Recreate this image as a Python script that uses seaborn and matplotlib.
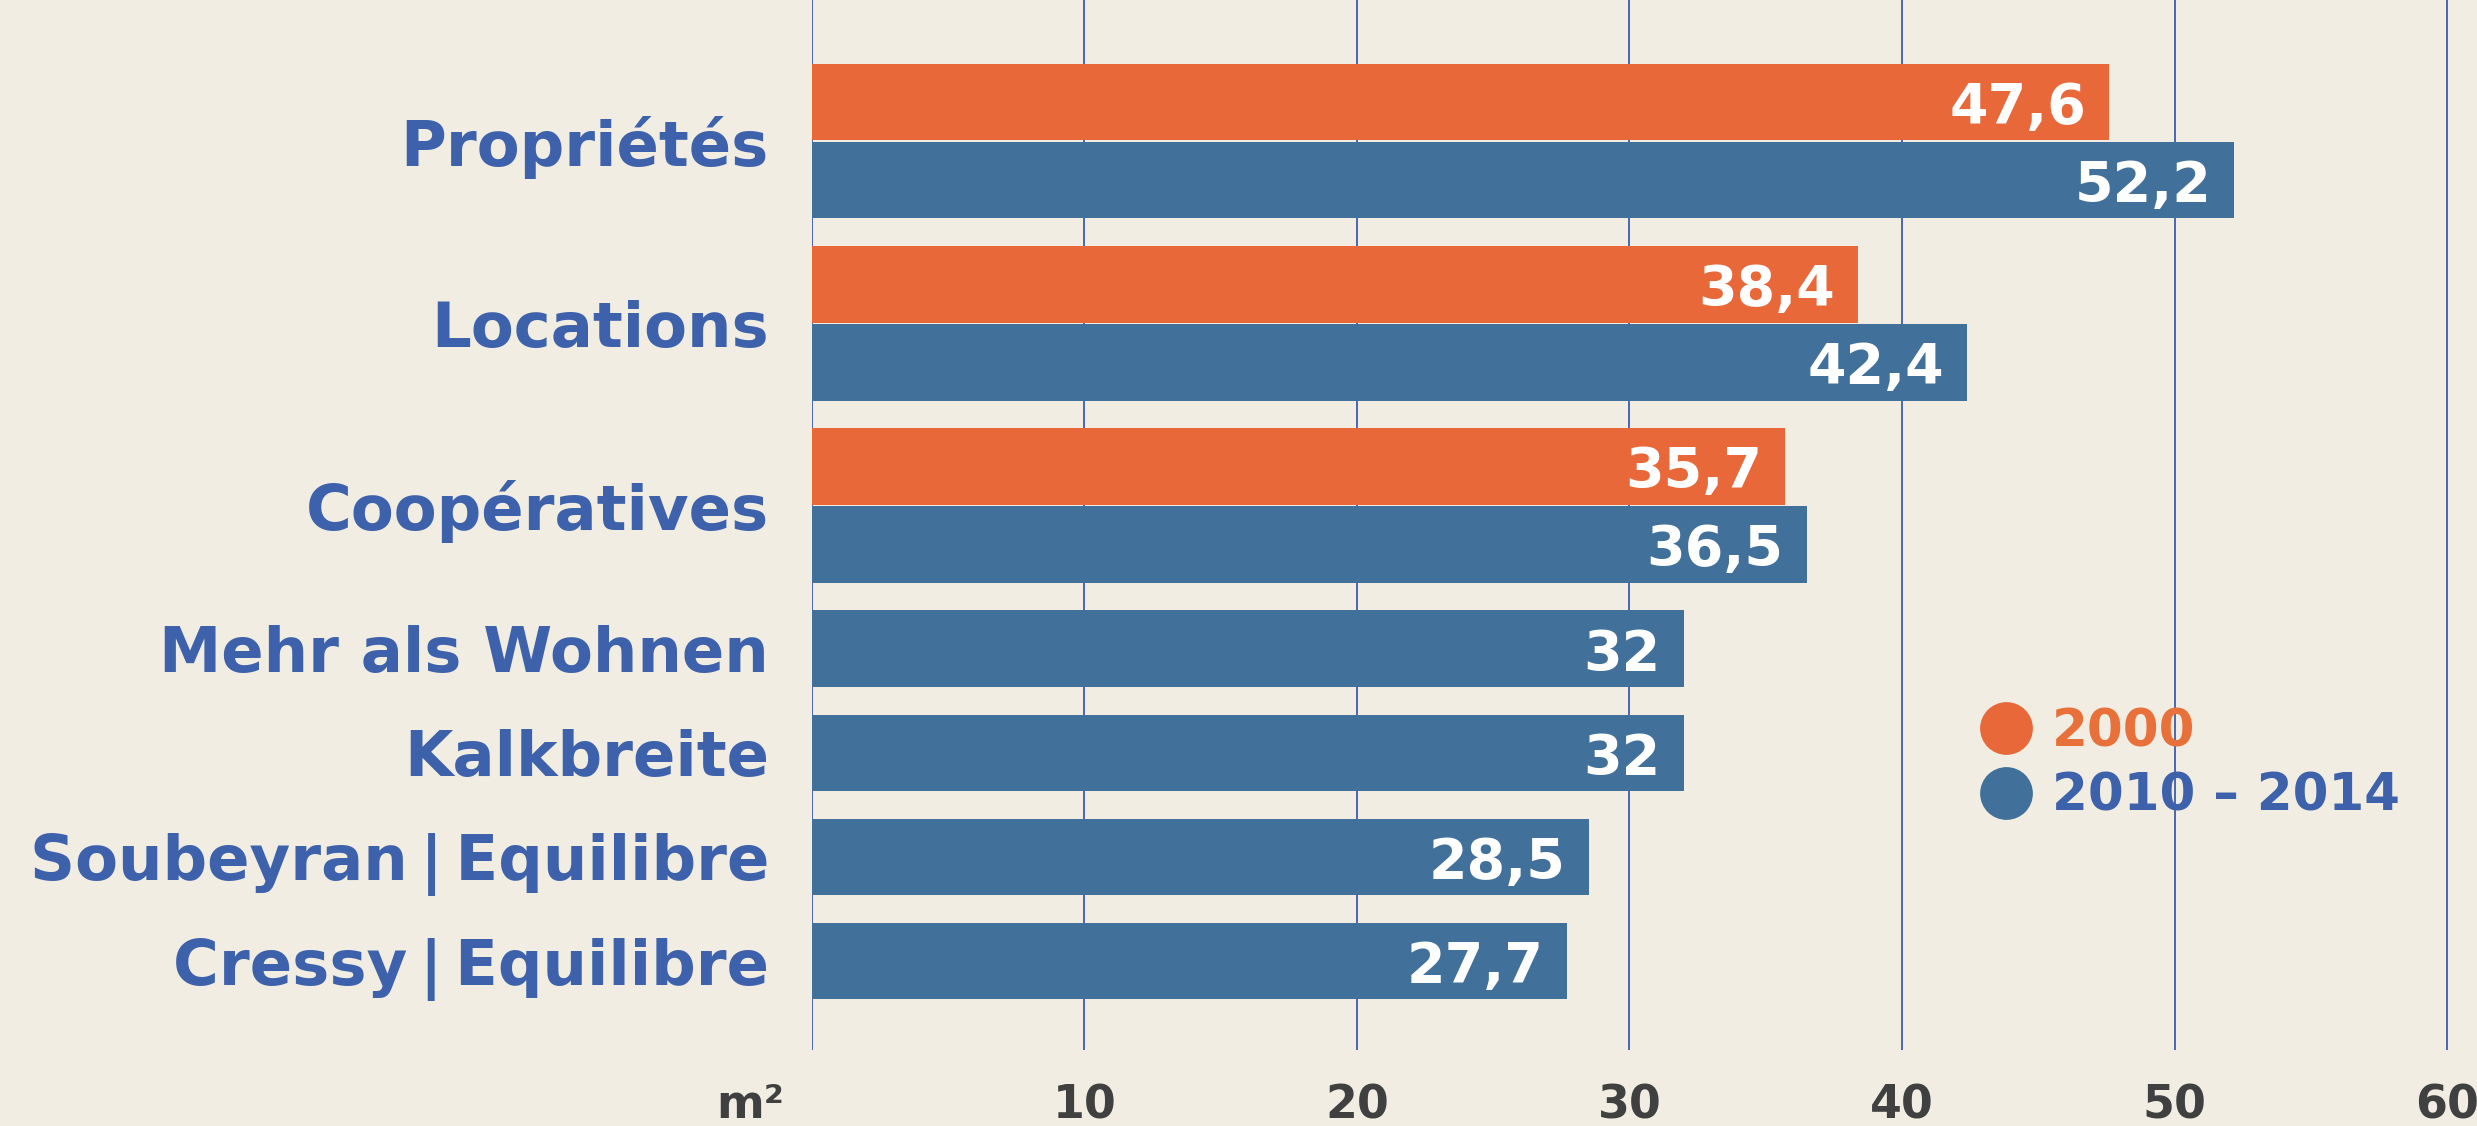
import numpy as np
import pandas as pd
import matplotlib
matplotlib.use("Agg")
import matplotlib.pyplot as plt
from matplotlib.lines import Line2D
import seaborn as sns

# Surface par habitant (m2)
categories = ["Propriétés", "Locations", "Coopératives", "Mehr als Wohnen",
              "Kalkbreite", "Soubeyran\u2009|\u2009Equilibre", "Cressy\u2009|\u2009Equilibre"]
series = ["2000", "2010 – 2014"]
values_2000 = [47.6, 38.4, 35.7, None, None, None, None]
values_2010 = [52.2, 42.4, 36.5, 32, 32, 28.5, 27.7]
x_ticks = [0, 10, 20, 30, 40, 50, 60]
x_tick_labels = ["", "10", "20", "30", "40", "50", "60"]

colors = {"2000": "#e8683a", "2010 – 2014": "#41719a"}
text_colors = {"2000": "#e8703a", "2010 – 2014": "#3d62ab"}
label_blue = "#3d62ab"
paper = "#f1ede2"
grid_blue = "#4a68b0"

# long table, one row per bar; bars of a group are stacked tightly,
# groups are separated by a slightly larger step
GROUP_STEP = 1.335
rows = []
group_centers = []
cursor = 0.0
for cat, v0, v1 in zip(categories, values_2000, values_2010):
    start = cursor
    for s, v in zip(series, [v0, v1]):
        if v is None:
            continue
        rows.append({"category": cat, "series": s, "value": v, "pos": cursor})
        cursor += 1
    group_centers.append((start + cursor - 1) / 2)
    cursor += GROUP_STEP - 1
df = pd.DataFrame(rows)

sns.set_theme(style="white")
plt.rcParams["font.family"] = ["DejaVu Sans"]

fig = plt.figure(figsize=(24.77, 11.26), dpi=100, facecolor=paper)
ax = fig.add_axes([0.3278, 0.0675, 0.6722, 0.9325])
ax.set_facecolor(paper)

sns.barplot(data=df, x="value", y="pos", hue="series", orient="h",
            native_scale=True, dodge=False, width=0.98, errorbar=None,
            palette=colors, saturation=1, legend=False, ax=ax, zorder=3,
            linewidth=0, edgecolor="none")

for _, r in df.iterrows():
    ax.text(r["value"] - 0.85, r["pos"], f"{r['value']:g}".replace(".", ","),
            ha="right", va="center_baseline", color="white",
            fontsize=40, fontweight="bold", zorder=4)

ax.set_xlim(0, 61.1)
ax.set_ylim(12.15, -1.31)
ax.set_xticks(x_ticks)
ax.set_xticklabels(x_tick_labels, fontsize=33, fontweight="bold", color="#404040")
ax.set_yticks(group_centers)
ax.set_yticklabels(categories, fontsize=45, fontweight="bold", color=label_blue)
ax.tick_params(axis="both", length=0)
ax.tick_params(axis="x", pad=24)
ax.tick_params(axis="y", pad=31)
ax.grid(axis="x", color=grid_blue, linewidth=1.4, zorder=0)
ax.grid(axis="y", visible=False)
ax.set_axisbelow(True)
for sp in ax.spines.values():
    sp.set_visible(False)
ax.set_xlabel("")
ax.set_ylabel("")

ax.annotate("m²", xy=(-1.0, 0), xycoords=("data", "axes fraction"),
            xytext=(0, -24), textcoords="offset points", ha="right", va="top",
            fontsize=33, fontweight="bold", color="#404040", annotation_clip=False)

handles = [Line2D([], [], marker="o", linestyle="none", markersize=38,
                  markerfacecolor=colors[s], markeredgewidth=0) for s in series]
leg = fig.legend(handles, series, loc="center left", bbox_to_anchor=(0.789, 0.321),
                 frameon=False, borderpad=0, handlelength=1.0, handletextpad=0.4,
                 labelspacing=0.28, prop={"size": 37, "weight": "bold"})
for t, s in zip(leg.get_texts(), series):
    t.set_color(text_colors[s])

fig.savefig("out.png", dpi=100, facecolor=paper)
